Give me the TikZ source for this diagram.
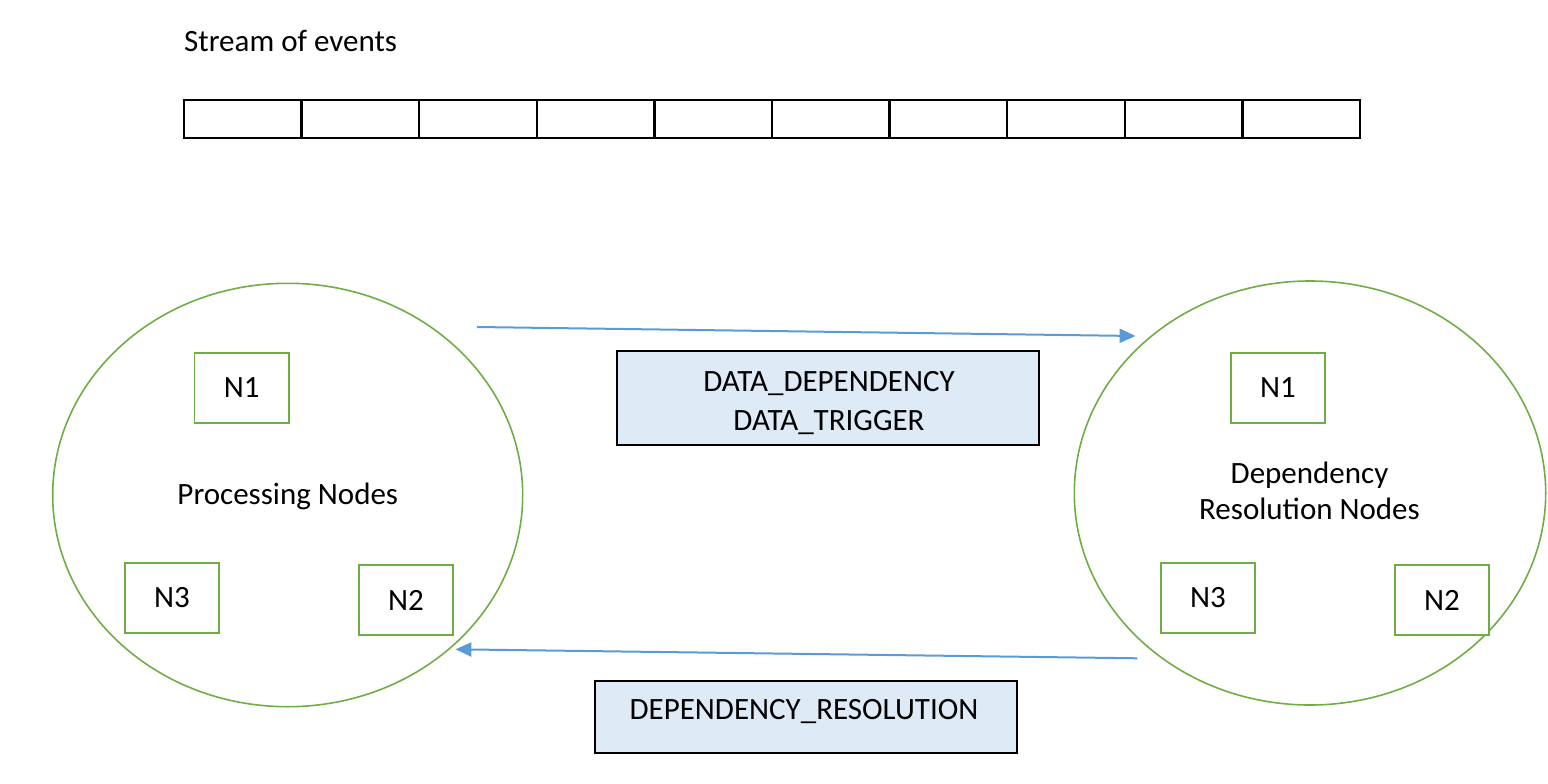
\documentclass[tikz,border=0pt]{standalone}
\usepackage{fontspec}
\setmainfont{Carlito}
\usetikzlibrary{shapes.geometric,arrows.meta}
\definecolor{ogreen}{HTML}{70AD47}
\definecolor{oblue}{HTML}{5B9BD5}
\definecolor{lblue}{HTML}{DEEBF7}
\begin{document}
\begin{tikzpicture}[x=1pt,y=-1pt,
  font=\fontsize{31}{37}\selectfont,
  cell/.style={draw=black, line width=2.3pt, minimum width=117.63pt, minimum height=37.7pt, inner sep=0pt, anchor=north west},
  nbox/.style={draw=ogreen, fill=white, line width=1.8pt, minimum width=94.5pt, minimum height=70pt, inner sep=0pt},
  group/.style={ellipse, draw=ogreen, line width=1.6pt, inner sep=0pt},
  msg/.style={draw=black, line width=2.2pt, fill=lblue, inner sep=0pt},
  flow/.style={draw=oblue, line width=2pt, -{Triangle[length=16pt,width=14pt]}},
  lbl/.style={anchor=base, inner sep=0pt}]
\useasboundingbox (0,0) rectangle (1548,784);
% stream of events
\node[lbl, anchor=base west] (stream) at (184,51.7) {Stream of events};
\foreach \k in {0,...,9}
  \node[cell] (c\k) at ({182.7+117.63*\k},99) {};
% groups
\node[group, minimum width=470pt, minimum height=423.4pt] (pe) at (287.7,495) {};
\node[group, minimum width=471.4pt, minimum height=424pt] (re) at (1310,493) {};
\node[lbl] (ptext) at (287.8,504) {Processing Nodes};
\node[lbl] (rtext1) at (1309.5,483.3) {Dependency};
\node[lbl] (rtext2) at (1309.5,519.3) {Resolution Nodes};
% node boxes
\node[nbox] (pn1) at (241.8,387.85) {N1};
\node[nbox] (pn3) at (172,597.85) {N3};
\node[nbox] (pn2) at (406,600) {N2};
\node[nbox] (rn1) at (1277.85,387.85) {N1};
\node[nbox] (rn3) at (1207.85,597.85) {N3};
\node[nbox] (rn2) at (1441.85,600) {N2};
% message boxes
\node[msg, minimum width=422pt, minimum height=94pt] (m1) at (828,398) {};
\node[lbl] (m1a) at (829,391.7) {DATA\_DEPENDENCY};
\node[lbl] (m1b) at (829,430) {DATA\_TRIGGER};
\node[msg, minimum width=422.4pt, minimum height=72pt] (m2) at (805.8,716.7) {};
\node[lbl] (m2a) at (804,719.3) {DEPENDENCY\_RESOLUTION};
% flows
\coordinate (f1s) at (477,327);
\coordinate (f1e) at (1135.6,336);
\coordinate (f2s) at (1137.3,658.3);
\coordinate (f2e) at (455.4,649.3);
\draw[flow] (f1s) -- (f1e);
\draw[flow] (f2s) -- (f2e);
\end{tikzpicture}
\end{document}
